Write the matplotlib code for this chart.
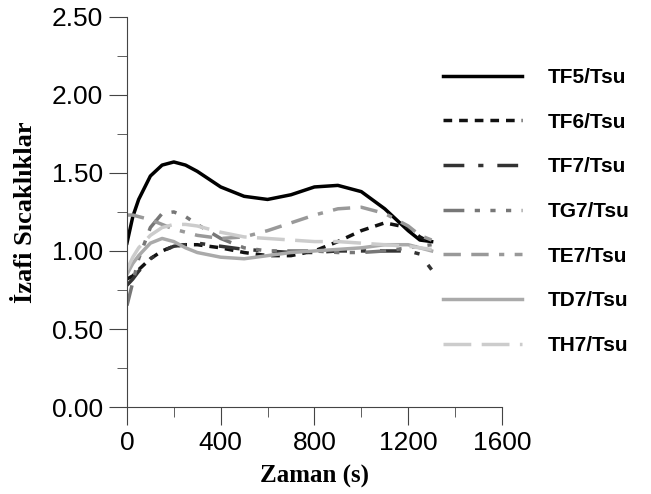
import numpy as np
import matplotlib.pyplot as plt
from matplotlib.ticker import MultipleLocator, FormatStrFormatter

# zaman [s]
t = [0, 25, 50, 100, 150, 200, 250, 300, 400, 500, 600, 700, 800, 900, 1000, 1100, 1200, 1250, 1300]

tf5 = [1.05, 1.22, 1.33, 1.48, 1.55, 1.57, 1.55, 1.51, 1.41, 1.35, 1.33, 1.36, 1.41, 1.42, 1.38, 1.27, 1.13, 1.07, 1.06]
tf6 = [0.82, 0.84, 0.88, 0.95, 1.00, 1.03, 1.04, 1.04, 1.02, 0.99, 0.97, 0.97, 1.00, 1.06, 1.13, 1.18, 1.15, 1.09, 1.05]
tf7 = [0.78, 0.82, 0.87, 0.95, 1.00, 1.03, 1.04, 1.05, 1.03, 1.01, 1.00, 0.99, 0.99, 1.00, 1.00, 1.00, 1.00, 0.98, 0.88]
tg7 = [0.65, 0.80, 0.95, 1.15, 1.24, 1.25, 1.22, 1.17, 1.08, 1.02, 1.00, 1.00, 1.00, 0.99, 0.99, 1.00, 1.02, 1.03, 1.04]
te7 = [1.23, 1.23, 1.22, 1.20, 1.17, 1.14, 1.12, 1.10, 1.08, 1.09, 1.13, 1.18, 1.23, 1.27, 1.28, 1.24, 1.16, 1.10, 1.07]
td7 = [0.85, 0.92, 0.97, 1.05, 1.08, 1.06, 1.02, 0.99, 0.96, 0.95, 0.97, 0.99, 1.00, 1.01, 1.02, 1.04, 1.04, 1.02, 1.00]
th7 = [0.88, 0.96, 1.02, 1.10, 1.15, 1.17, 1.17, 1.16, 1.12, 1.09, 1.08, 1.07, 1.06, 1.06, 1.05, 1.04, 1.03, 1.02, 1.01]

labels = ["TF5/Tsu", "TF6/Tsu", "TF7/Tsu", "TG7/Tsu", "TE7/Tsu", "TD7/Tsu", "TH7/Tsu"]
series = [tf5, tf6, tf7, tg7, te7, td7, th7]
colors = ["#000000", "#111111", "#333333", "#777777", "#999999", "#aaaaaa", "#cccccc"]
styles = ["-", (0, (2.5, 2.0)), (0, (6, 4, 1.5, 4)), (0, (6, 3, 1.5, 3, 1.5, 3, 1.5, 3)),
          (0, (5, 3, 5, 3, 1.5, 3)), "-", (0, (8, 3))]

plt.rcParams['font.family'] = ['Liberation Sans', 'DejaVu Sans']

fig = plt.figure(figsize=(6.51, 4.94), dpi=100)
ax = fig.add_axes([0.195, 0.176, 0.576, 0.790])

for y, lab, c, ls in zip(series, labels, colors, styles):
    ax.plot(t, y, color=c, linestyle=ls, linewidth=2.5, label=lab)

ax.set_xlim(0, 1600)
ax.set_ylim(0, 2.5)
ax.xaxis.set_major_locator(MultipleLocator(400))
ax.xaxis.set_minor_locator(MultipleLocator(200))
ax.yaxis.set_major_locator(MultipleLocator(0.5))
ax.yaxis.set_minor_locator(MultipleLocator(0.25))
ax.yaxis.set_major_formatter(FormatStrFormatter('%.2f'))
ax.spines['top'].set_visible(False)
ax.spines['right'].set_visible(False)
for s in ['left', 'bottom']:
    ax.spines[s].set_color('#444444')
ax.tick_params(which='major', length=13, color='#444444', labelsize=19, pad=4)
ax.tick_params(which='minor', length=7, color='#444444')

ax.set_xlabel("Zaman (s)", fontsize=18, fontweight='bold', family='Liberation Serif')
ax.set_ylabel("İzafi Sıcaklıklar", fontsize=19, fontweight='bold', family='Liberation Serif')
ax.xaxis.set_label_coords(0.5, -0.148)
ax.yaxis.set_label_coords(-0.24, 0.5)

leg = fig.legend(loc='upper left', bbox_to_anchor=(0.652, 0.900), frameon=False,
                 handlelength=3.8, labelspacing=1.23, handletextpad=1.2,
                 prop={'weight': 'bold', 'size': 15})

fig.savefig("out.png", dpi=100)
